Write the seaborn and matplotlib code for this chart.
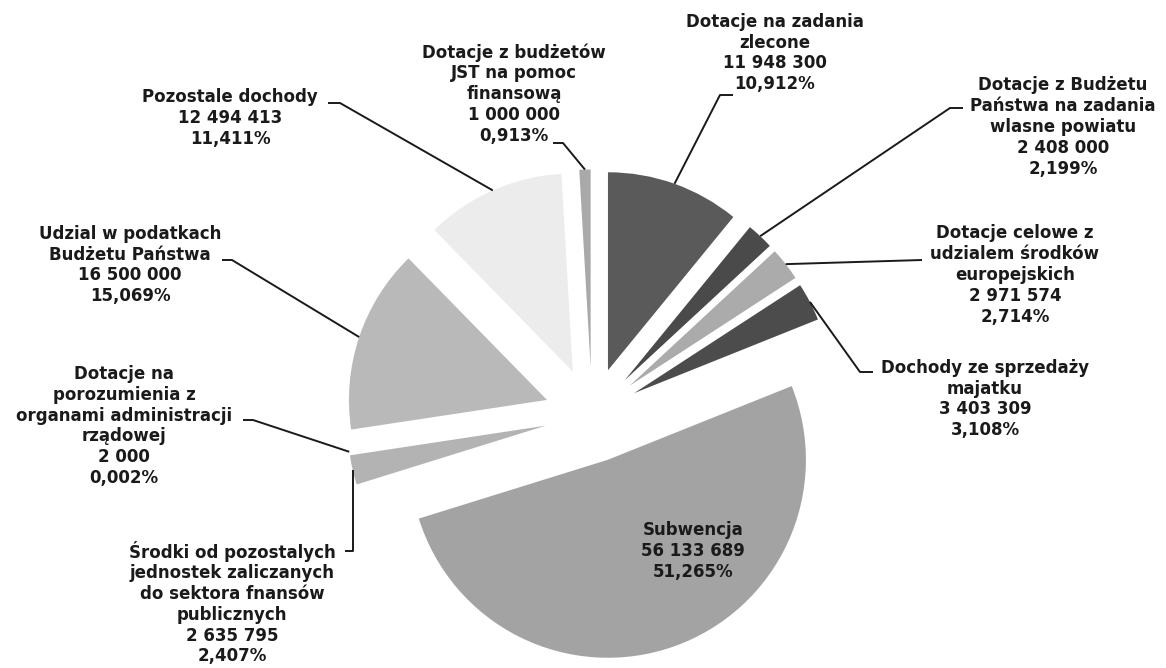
import numpy as np
import matplotlib
matplotlib.use("Agg")
import matplotlib.pyplot as plt
import seaborn as sns

sns.set_theme(style="white")
plt.rcParams['font.family'] = ['DejaVu Sans']

# slices, clockwise from 12 o'clock
names = [
    "Dotacje na zadania\nzlecone",
    "Dotacje z Budżetu\nPaństwa na zadania\nwlasne powiatu",
    "Dotacje celowe z\nudzialem środków\neuropejskich",
    "Dochody ze sprzedaży\nmajatku",
    "Subwencja",
    "Środki od pozostalych\njednostek zaliczanych\ndo sektora fnansów\npublicznych",
    "Dotacje na\nporozumienia z\norganami administracji\nrządowej",
    "Udzial w podatkach\nBudżetu Państwa",
    "Pozostale dochody",
    "Dotacje z budżetów\nJST na pomoc\nfinansową",
]
amounts = [11948300, 2408000, 2971574, 3403309, 56133689,
           2635795, 2000, 16500000, 12494413, 1000000]
slice_colors = ["#5a5a5a", "#4a4a4a", "#ababab", "#4c4c4c", "#a3a3a3",
                "#b3b3b3", "#b3b3b3", "#b9b9b9", "#ececec", "#a9a9a9"]

# label layout (pixel coords, y down)
label_pos = [(775, 53), (1063, 127), (1015, 275), (985, 399), (693, 551),
             (232, 603), (124, 426), (130, 265), (230, 118), (514, 94)]
leader_start = [
    [(733, 95), (720, 95)],
    [(963, 108), (950, 108)],
    [(922, 260)],
    [(873, 372), (860, 372)],
    None,
    "vertical",
    [(243, 420), (253, 420)],
    [(222, 260), (232, 260)],
    [(328, 103), (340, 103)],
    [(553, 143), (563, 143)],
]

W, H = 1166, 668
fig = plt.figure(figsize=(W / 100, H / 100), dpi=100)
ax = fig.add_axes([0, 0, 1, 1])

total = sum(amounts)
pcts = [a / total * 100 for a in amounts]

cx, cy, r = 592, 415, 198
gap = 47.5  # explode offset in pixels
wedges, _ = ax.pie(amounts, colors=sns.color_palette(slice_colors),
                   startangle=-90, counterclock=True,
                   explode=[gap] * len(amounts), radius=r, center=(cx, cy),
                   wedgeprops=dict(linewidth=0))

ax.set_xlim(0, W)
ax.set_ylim(H, 0)
ax.set_aspect("auto")
ax.axis("off")

for i, w in enumerate(wedges):
    val = f"{amounts[i]:,}".replace(",", " ")
    pct = f"{pcts[i]:.3f}%".replace(".", ",")
    txt = f"{names[i]}\n{val}\n{pct}"
    x, y = label_pos[i]
    ax.text(x, y, txt, ha="center", va="center", multialignment="center",
            fontsize=12, fontweight="bold", color="#1a1a1a", linespacing=1.2)

    start = leader_start[i]
    if start is None:
        continue
    # outer arc middle of the (exploded) wedge
    tm = np.deg2rad((w.theta1 + w.theta2) / 2)
    wx, wy = w.center
    px, py = wx + w.r * np.cos(tm), wy + w.r * np.sin(tm)
    if start == "vertical":
        pts = [(345, 551), (px, 551), (px, py)]
    else:
        pts = start + [(px, py)]
    xs, ys = zip(*pts)
    ax.plot(xs, ys, color="#1a1a1a", lw=1.4, solid_capstyle="butt")

fig.savefig("out.png", dpi=100, facecolor="white")
